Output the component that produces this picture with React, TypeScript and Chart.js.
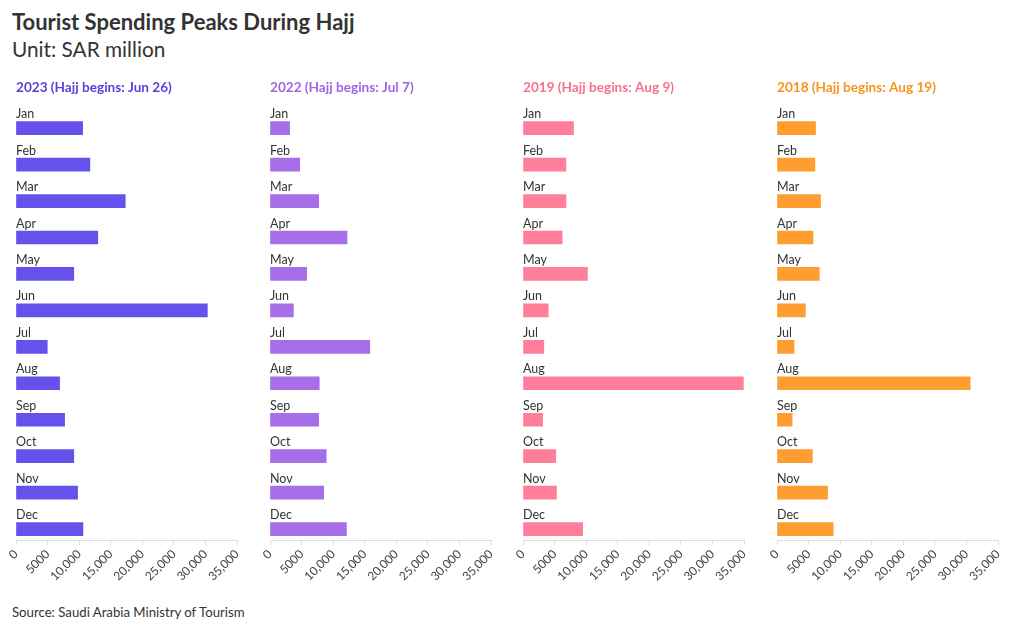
import React, { useEffect, useRef } from 'react';
import { Chart, registerables } from 'chart.js';

Chart.register(...registerables);

const FONT = 'Lato';

const MONTHS = ['Jan', 'Feb', 'Mar', 'Apr', 'May', 'Jun', 'Jul', 'Aug', 'Sep', 'Oct', 'Nov', 'Dec'];
const X_TICKS = [0, 5000, 10000, 15000, 20000, 25000, 30000, 35000];
const X_TICK_LABELS = ['0', '5000', '10,000', '15,000', '20,000', '25,000', '30,000', '35,000'];

const SPEND_2023 = [10550, 11700, 17300, 12950, 9150, 30300, 4950, 6900, 7700, 9150, 9750, 10600];
const SPEND_2022 = [3100, 4700, 7700, 12200, 5800, 3700, 15800, 7800, 7700, 8900, 8500, 12100];
const SPEND_2019 = [8000, 6800, 6800, 6200, 10200, 4000, 3300, 34900, 3100, 5200, 5300, 9450];
const SPEND_2018 = [6100, 6000, 6900, 5700, 6700, 4500, 2700, 30600, 2400, 5600, 8000, 8900];

const PANEL_TITLES = [
  '2023 (Hajj begins: Jun 26)',
  '2022 (Hajj begins: Jul 7)',
  '2019 (Hajj begins: Aug 9)',
  '2018 (Hajj begins: Aug 19)',
];
const PANEL_VALUES = [SPEND_2023, SPEND_2022, SPEND_2019, SPEND_2018];
const BAR_COLORS = ['#6552ec', '#a66ee8', '#ff7f9a', '#ff9e30'];
const TITLE_COLORS = ['#5a40dc', '#a066e2', '#f7718f', '#f7941f'];
const PANEL_LEFTS = [0, 254, 507, 761];

function Panel({ index }: { index: number }) {
  const ref = useRef<HTMLCanvasElement>(null);
  useEffect(() => {
    const values = PANEL_VALUES[index];
    const chart = new Chart(ref.current as HTMLCanvasElement, {
      type: 'bar',
      data: {
        datasets: [
          {
            data: values.map((v, i) => ({ x: v, y: i })),
            backgroundColor: BAR_COLORS[index],
            borderWidth: 0,
            barThickness: 13,
          },
        ],
      },
      options: {
        indexAxis: 'y',
        animation: false,
        responsive: false,
        maintainAspectRatio: false,
        layout: { padding: { left: 16, right: 16, top: 10, bottom: 0 } },
        plugins: {
          legend: { display: false },
          tooltip: { enabled: false },
          title: {
            display: true,
            text: PANEL_TITLES[index],
            align: 'start',
            color: TITLE_COLORS[index],
            font: { family: FONT, size: 13.6, weight: 'bold', lineHeight: 1.15 },
            padding: { top: 0, bottom: 7 },
          },
        },
        scales: {
          x: {
            type: 'linear',
            min: 0,
            max: 35000,
            afterBuildTicks: (s: any) => {
              s.ticks = X_TICKS.map((v) => ({ value: v }));
            },
            afterFit: (s: any) => {
              s.height = 60;
            },
            ticks: {
              callback: (_v: any, i: number) => X_TICK_LABELS[i],
              minRotation: 45,
              maxRotation: 45,
              autoSkip: false,
              color: '#444',
              font: { family: FONT, size: 12 },
              padding: 2,
            },
            grid: { drawOnChartArea: false, drawTicks: true, tickLength: 5, color: '#dddddd' },
            border: { display: true, color: '#dddddd' },
          },
          y: {
            type: 'linear',
            reverse: true,
            offset: false,
            min: -0.7,
            max: 11.3,
            afterBuildTicks: (s: any) => {
              s.ticks = MONTHS.map((_m, i) => ({ value: i }));
            },
            ticks: {
              callback: (v: any) => MONTHS[v as number],
              mirror: true,
              padding: 0,
              labelOffset: -14,
              autoSkip: false,
              color: '#333',
              font: { family: FONT, size: 12.5 },
            },
            grid: { display: false, drawTicks: false, offset: false },
            border: { display: false },
          },
        },
      },
    } as any);
    return () => chart.destroy();
  }, [index]);
  return (
    <canvas
      ref={ref}
      width={253}
      height={530}
      style={{ position: 'absolute', left: PANEL_LEFTS[index], top: 70, width: 253, height: 530 }}
    />
  );
}

export default function App() {
  return (
    <div
      style={{
        position: 'absolute',
        left: 0,
        top: 0,
        width: 1020,
        height: 632,
        background: '#ffffff',
        fontFamily: FONT,
        color: '#333',
        overflow: 'hidden',
      }}
    >
      <div style={{ position: 'absolute', left: 12, top: 9, fontSize: 22, fontWeight: 700, lineHeight: '26px', whiteSpace: 'nowrap' }}>
        Tourist Spending Peaks During Hajj
      </div>
      <div style={{ position: 'absolute', left: 12, top: 37, fontSize: 20.8, lineHeight: '24px', whiteSpace: 'nowrap' }}>
        Unit: SAR million
      </div>
      {PANEL_TITLES.map((_t, i) => (
        <Panel key={i} index={i} />
      ))}
      <div style={{ position: 'absolute', left: 12, top: 604, fontSize: 13.2, lineHeight: '16px', whiteSpace: 'nowrap' }}>
        Source: Saudi Arabia Ministry of Tourism
      </div>
    </div>
  );
}
